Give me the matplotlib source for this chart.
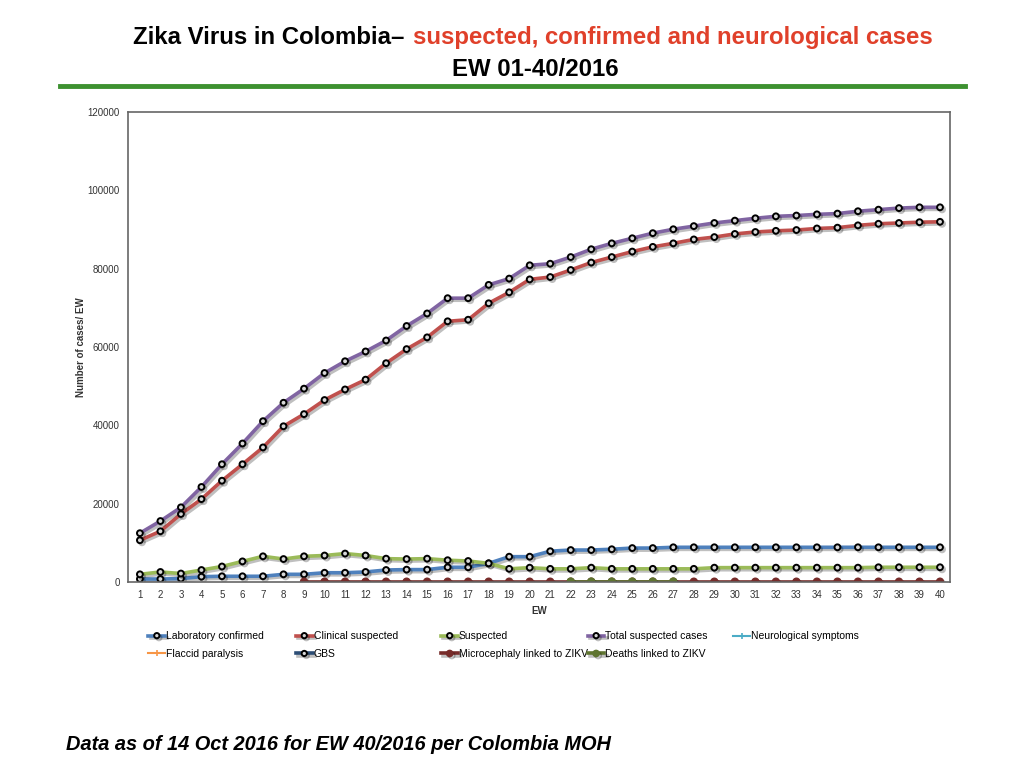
import numpy as np
import matplotlib
matplotlib.use("Agg")
import matplotlib.pyplot as plt
import matplotlib.patheffects as pe
from matplotlib.lines import Line2D

plt.rcParams['font.family'] = ['Liberation Sans', 'DejaVu Sans']

# semanas epidemiologicas
ew = list(range(1, 41))

lab_confirmed = [800, 800, 900, 1400, 1500, 1500, 1500, 2000, 2000, 2400,
                 2400, 2600, 3100, 3200, 3200, 3800, 3800, 4800, 6500, 6500,
                 7900, 8200, 8200, 8400, 8700, 8700, 8900, 8900, 8900, 8900,
                 8900, 8900, 8900, 8900, 8900, 8900, 8900, 8900, 8900, 8900]
clinical_suspected = [10700, 13000, 17400, 21200, 25900, 30100, 34400, 39800, 42900, 46500,
                      49200, 51700, 55900, 59500, 62500, 66600, 67000, 71200, 74000, 77300,
                      77900, 79700, 81600, 83000, 84400, 85600, 86500, 87500, 88100, 88900,
                      89400, 89700, 89900, 90300, 90500, 91100, 91500, 91700, 91900, 92000]
suspected = [2000, 2600, 2200, 3100, 4000, 5300, 6600, 5900, 6600, 6800,
             7300, 6800, 6000, 5900, 6000, 5600, 5400, 4800, 3400, 3700,
             3400, 3400, 3700, 3400, 3400, 3400, 3400, 3400, 3700, 3700,
             3700, 3700, 3700, 3700, 3700, 3700, 3800, 3800, 3800, 3800]
total_suspected = [12500, 15600, 19100, 24300, 30100, 35400, 41100, 45800, 49400, 53400,
                   56400, 58900, 61700, 65400, 68600, 72500, 72500, 75900, 77500, 80900,
                   81300, 83000, 85000, 86500, 87800, 89100, 90100, 90900, 91700, 92300,
                   92900, 93400, 93600, 93900, 94100, 94700, 95100, 95500, 95700, 95700]
# series casi en cero (solo se ven en la base)
neuro_symptoms = [np.nan] * 40
flaccid_paralysis = [np.nan] * 40
gbs = [np.nan] * 40
microcephaly = [np.nan] * 8 + [120] * 32
deaths = [np.nan] * 21 + [150, 150, 150, 150, 150, 150] + [np.nan] * 13

series = [
    ("Laboratory confirmed", lab_confirmed, "#4f81bd", "ring"),
    ("Clinical suspected", clinical_suspected, "#c0504d", "ring"),
    ("Suspected", suspected, "#9bbb59", "ring"),
    ("Total suspected cases", total_suspected, "#8064a2", "ring"),
    ("Neurological symptoms", neuro_symptoms, "#4bacc6", "plus"),
    ("Flaccid paralysis", flaccid_paralysis, "#f79646", "plus"),
    ("GBS", gbs, "#2c4d75", "ring"),
    ("Microcephaly linked to ZIKV", microcephaly, "#772c2a", "dot"),
    ("Deaths linked to ZIKV", deaths, "#5f7530", "dot"),
]

fig = plt.figure(figsize=(10.24, 7.68), dpi=100)
ax = fig.add_axes([0.125, 0.242, 0.803, 0.612])

shadow = [pe.SimpleLineShadow(offset=(1.5, -1.5), alpha=0.25, shadow_color="k"), pe.Normal()]
handles = {}
for name, vals, color, style in series:
    if style == "ring":
        h, = ax.plot(ew, vals, color=color, lw=2.6, marker="o", ms=4.2,
                     mfc="#d8d8d8", mec="black", mew=1.4, label=name, path_effects=shadow)
    elif style == "dot":
        h, = ax.plot(ew, vals, color=color, lw=2.6, marker="o", ms=5,
                     mfc=color, mec=color, label=name, path_effects=shadow)
    else:
        h, = ax.plot(ew, vals, color=color, lw=1.5, marker="+", ms=5,
                     mew=1.2, label=name)
    handles[name] = h

ax.set_xlim(0.42, 40.5)
ax.set_ylim(0, 120000)
ax.set_xticks(ew)
ax.set_yticks(range(0, 120001, 20000))
ax.tick_params(length=0, labelsize=7, colors="#333333", pad=6)
for s in ax.spines.values():
    s.set_color("#666666")
    s.set_linewidth(1.2)
ax.set_xlabel("EW", fontsize=7, fontweight="bold", color="#333333", labelpad=4)
ax.set_ylabel("Number of cases/ EW", fontsize=7, fontweight="bold", color="#333333", labelpad=1)

# leyenda: una columna por cada par de entradas
columns = [
    (["Laboratory confirmed", "Flaccid paralysis"], 0.145),
    (["Clinical suspected", "GBS"], 0.289),
    (["Suspected", "Microcephaly linked to ZIKV"], 0.431),
    (["Total suspected cases", "Deaths linked to ZIKV"], 0.574),
    (["Neurological symptoms"], 0.716),
]
for names, x0 in columns:
    fig.legend([handles[n] for n in names], names, loc="upper left",
               bbox_to_anchor=(x0, 0.178), frameon=False, fontsize=7.5,
               handlelength=1.6, handletextpad=0.1, borderaxespad=0,
               borderpad=0, labelspacing=0.75, markerscale=0.9)

# titulo en dos colores
fig.text(0.13, 0.951, "Zika Virus in Colombia\u2013", fontsize=17.3, fontweight="bold",
         color="black", ha="left", va="center")
fig.text(0.403, 0.951, "suspected, confirmed and neurological cases", fontsize=17.3,
         fontweight="bold", color="#e0402a", ha="left", va="center")
fig.text(0.523, 0.909, "EW 01-40/2016", fontsize=17.3, fontweight="bold",
         color="black", ha="center", va="center")
fig.add_artist(Line2D([0.059, 0.942], [0.888, 0.888], color="#3d9130", lw=3.5))

fig.text(0.064, 0.031, "Data as of 14 Oct 2016 for EW 40/2016 per Colombia MOH",
         fontsize=14.4, fontweight="bold", style="italic", ha="left", va="center")

fig.savefig("out.png", dpi=100)
